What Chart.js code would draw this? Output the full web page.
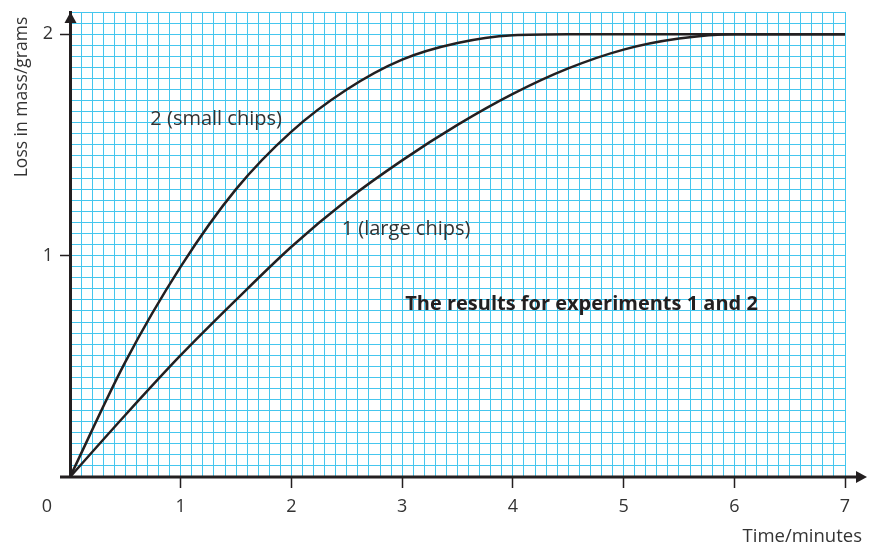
<!DOCTYPE html>
<html>
<head>
<meta charset="utf-8">
<script src="https://cdn.jsdelivr.net/npm/chart.js@4"></script>
<style>
  body { margin: 0; background: #fff; }
  canvas { display: block; }
</style>
</head>
<body>
<canvas id="chart" width="869" height="547"></canvas>
<script>
// Loss in mass over time
const timeSmall = [0, 0.5, 1, 1.5, 2, 2.5, 3, 3.5, 4, 4.5, 5, 6, 7];
const lossSmall = [0, 0.52, 0.95, 1.30, 1.56, 1.75, 1.885, 1.96, 1.995, 2, 2, 2, 2];
const timeLarge = [0, 0.5, 1, 1.5, 2, 2.5, 3, 3.5, 4, 4.5, 5, 5.5, 6, 7];
const lossLarge = [0, 0.28, 0.55, 0.80, 1.04, 1.25, 1.43, 1.59, 1.73, 1.845, 1.93, 1.98, 2, 2];
const xTickLabels = ["1", "2", "3", "4", "5", "6", "7"];
const yTickLabels = ["1", "2"];

const ink = "#231f20";
const gridBlue = "#45c6ee";
const font = "'Open Sans', 'Noto Sans', sans-serif";

const isWhole = (v) => Math.abs(v - Math.round(v)) < 1e-6;

// axes with arrows, the origin 0, axis titles and the notes on the graph
const extras = {
  id: "extras",
  afterDraw(chart) {
    const { ctx, chartArea: a, scales: { x, y } } = chart;
    ctx.save();
    ctx.fillStyle = ink;
    // arrow heads
    ctx.beginPath();
    ctx.moveTo(a.left + 0.5, a.top);
    ctx.lineTo(a.left - 5.5, a.top + 11);
    ctx.lineTo(a.left + 6.5, a.top + 11);
    ctx.closePath();
    ctx.fill();
    ctx.beginPath();
    ctx.moveTo(a.right + 22, a.bottom);
    ctx.lineTo(a.right + 11, a.bottom - 6);
    ctx.lineTo(a.right + 11, a.bottom + 6);
    ctx.closePath();
    ctx.fill();
    ctx.strokeStyle = ink;
    ctx.lineWidth = 3;
    ctx.beginPath();
    ctx.moveTo(a.left - 10, a.bottom);
    ctx.lineTo(a.right + 12, a.bottom);
    ctx.stroke();

    ctx.fillStyle = "#333";
    ctx.font = "18px " + font;
    ctx.textAlign = "center";
    ctx.textBaseline = "middle";
    ctx.fillText("0", a.left - 23, a.bottom + 30);

    ctx.font = "18.5px " + font;
    ctx.textAlign = "right";
    ctx.fillText("Time/minutes", 862, 537);

    ctx.save();
    ctx.translate(22, 97);
    ctx.rotate(-Math.PI / 2);
    ctx.textAlign = "center";
    ctx.font = "17.5px " + font;
    ctx.fillText("Loss in mass/grams", 0, 0);
    ctx.restore();

    ctx.fillStyle = "#333";
    ctx.textAlign = "center";
    ctx.font = "20px " + font;
    ctx.fillText("2 (small chips)", x.getPixelForValue(1.32), y.getPixelForValue(1.615));
    ctx.fillText("1 (large chips)", x.getPixelForValue(3.035), y.getPixelForValue(1.12));
    ctx.fillStyle = ink;
    ctx.font = "bold 20px " + font;
    ctx.fillText("The results for experiments 1 and 2", x.getPixelForValue(4.62), y.getPixelForValue(0.78));
    ctx.restore();
  }
};

new Chart(document.getElementById("chart"), {
  type: "line",
  data: {
    datasets: [
      {
        label: "2 (small chips)",
        data: timeSmall.map((t, i) => ({ x: t, y: lossSmall[i] })),
        borderColor: ink,
        borderWidth: 2.5,
        pointRadius: 0,
        cubicInterpolationMode: "monotone"
      },
      {
        label: "1 (large chips)",
        data: timeLarge.map((t, i) => ({ x: t, y: lossLarge[i] })),
        borderColor: ink,
        borderWidth: 2.5,
        pointRadius: 0,
        cubicInterpolationMode: "monotone"
      }
    ]
  },
  options: {
    responsive: false,
    animation: false,
    layout: { padding: { top: 12, right: 24, left: 0, bottom: 0 } },
    plugins: { legend: { display: false }, tooltip: { enabled: false } },
    scales: {
      x: {
        type: "linear",
        min: 0,
        max: 7,
        afterFit: (s) => { s.height = 70; s.paddingLeft = 0; s.paddingRight = 0; },
        afterBuildTicks: (s) => {
          s.ticks = [];
          for (let i = 0; i <= 70; i++) s.ticks.push({ value: i / 10 });
        },
        border: { display: false },
        grid: {
          color: gridBlue,
          lineWidth: 1,
          tickLength: 11,
          tickColor: (c) => (c.tick && isWhole(c.tick.value) && c.tick.value > 0 ? ink : "rgba(0,0,0,0)"),
          tickWidth: 1.5
        },
        ticks: {
          autoSkip: false,
          maxRotation: 0,
          padding: 8,
          color: "#333",
          font: { family: font, size: 18 },
          callback: (v) => (isWhole(v) && v > 0 ? xTickLabels[Math.round(v) - 1] : "")
        }
      },
      y: {
        min: 0,
        max: 2.1,
        afterFit: (s) => { s.width = 70; s.paddingTop = 0; s.paddingBottom = 0; },
        afterBuildTicks: (s) => {
          s.ticks = [];
          for (let i = 0; i <= 42; i++) s.ticks.push({ value: i / 20 });
        },
        border: { display: true, color: ink, width: 3 },
        grid: {
          color: gridBlue,
          lineWidth: 1,
          tickLength: 10,
          tickColor: (c) => (c.tick && isWhole(c.tick.value) && c.tick.value > 0 ? ink : "rgba(0,0,0,0)"),
          tickWidth: 1.5
        },
        ticks: {
          autoSkip: false,
          padding: 7,
          color: "#333",
          font: { family: font, size: 18 },
          callback: (v) => (isWhole(v) && v > 0 ? yTickLabels[Math.round(v) - 1] : "")
        }
      }
    }
  },
  plugins: [extras]
});
</script>
</body>
</html>
